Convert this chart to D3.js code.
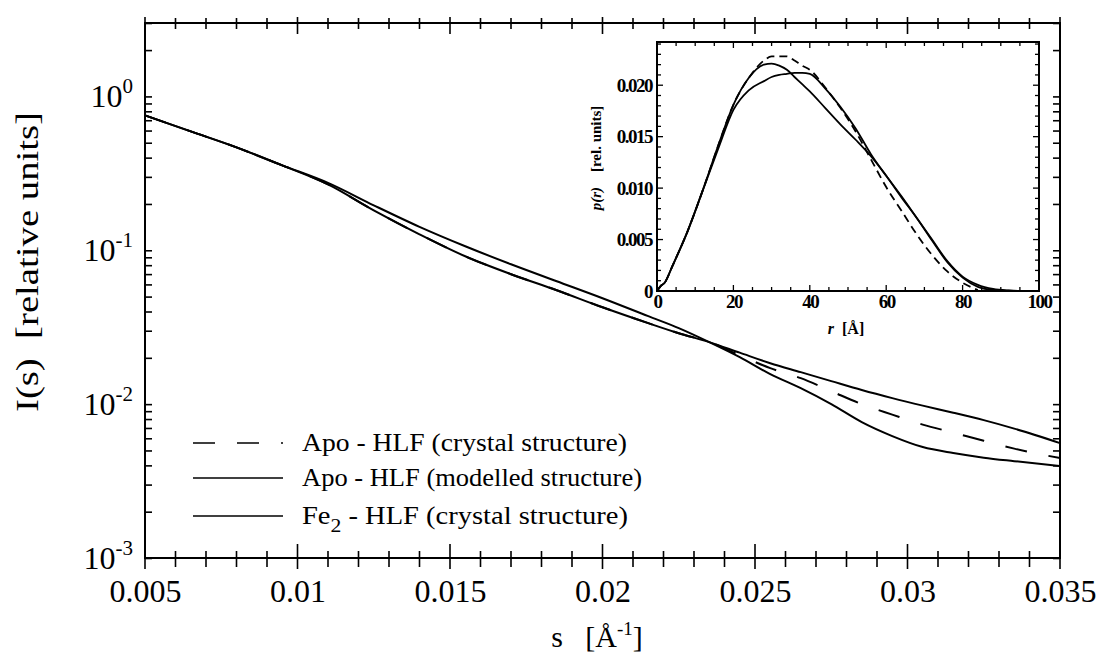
<!DOCTYPE html>
<html>
<head>
<meta charset="utf-8">
<script src="https://cdnjs.cloudflare.com/ajax/libs/d3/7.8.5/d3.min.js"></script>
<style>
  body { margin: 0; background: #fff; }
  svg { display: block; }
</style>
</head>
<body>
<div id="chart"></div>
<script>
// main plot: scattering curves I(s)
const sVals = [0.005, 0.0065, 0.008, 0.0095, 0.011, 0.0125, 0.014, 0.0155, 0.017, 0.0185,
  0.020, 0.0215, 0.0225, 0.0235, 0.0245, 0.0255, 0.0265, 0.0275, 0.0285, 0.0295,
  0.0305, 0.0315, 0.0325, 0.0335, 0.035];
const iApoCrystal = [0.7525, 0.5925, 0.4665, 0.3563, 0.2680, 0.1818, 0.1270, 0.0914, 0.0699, 0.0550,
  0.0426, 0.0336, 0.0289, 0.0253, 0.0208, 0.01713, 0.01475, 0.01214, 0.01000, 0.00855,
  0.00736, 0.00653, 0.00578, 0.00514, 0.00446];
const iApoModel = [0.7525, 0.5925, 0.4665, 0.3563, 0.2680, 0.1818, 0.1270, 0.0914, 0.0699, 0.0550,
  0.0426, 0.0336, 0.0289, 0.0253, 0.0216, 0.01846, 0.01614, 0.01411, 0.01235, 0.01094,
  0.00978, 0.00880, 0.00787, 0.00693, 0.00558];
const iFe2Crystal = [0.7525, 0.5925, 0.4665, 0.3563, 0.2740, 0.1960, 0.1420, 0.1062, 0.0811, 0.0629,
  0.0488, 0.0373, 0.0312, 0.0253, 0.0202, 0.01566, 0.01270, 0.01000, 0.00764, 0.00620,
  0.00526, 0.00481, 0.00449, 0.00426, 0.00396];

const xTicks = [0.005, 0.01, 0.015, 0.02, 0.025, 0.03, 0.035];
const xTickLabels = ["0.005", "0.01", "0.015", "0.02", "0.025", "0.03", "0.035"];
const yTicks = [1e-3, 1e-2, 1e-1, 1e0];
const yTickExps = ["-3", "-2", "-1", "0"];

// inset: distance distribution p(r)
const rVals = [0, 1, 2, 4, 8, 12, 16, 20, 24, 28, 30, 32, 34, 36, 38, 40, 44, 48, 52, 56,
  60, 64, 68, 72, 76, 80, 84, 88, 92, 96, 100];
const pApoCrystal = [0, 0.0005, 0.0008, 0.0024, 0.0058, 0.0098, 0.0141, 0.0181, 0.0207, 0.0224, 0.0228,
  0.0228, 0.0228, 0.0224, 0.0219, 0.0215, 0.0198, 0.0178, 0.0155, 0.0128,
  0.0101, 0.0078, 0.0055, 0.0035, 0.0019, 0.0008, 0.0001, null, null, null, null];
const pApoModel = [0, 0.0005, 0.0008, 0.0024, 0.0058, 0.0098, 0.0138, 0.0176, 0.0195, 0.0204, 0.0208,
  0.0210, 0.0211, 0.0212, 0.0212, 0.0211, 0.0197, 0.0179, 0.0158, 0.0133,
  0.0112, 0.0092, 0.0071, 0.0050, 0.0029, 0.0014, 0.0006, 0.0002, 0.00005, 0, 0];
const pFe2Crystal = [0, 0.0005, 0.0008, 0.0024, 0.0058, 0.0098, 0.0141, 0.0181, 0.0207, 0.0220, 0.0221,
  0.0219, 0.0215, 0.0208, 0.0201, 0.0194, 0.0178, 0.0162, 0.0147, 0.0131,
  0.0112, 0.0091, 0.0071, 0.0049, 0.0028, 0.0013, 0.0004, 0.0001, 0.00003, 0, 0];
const rTicks = [0, 20, 40, 60, 80, 100];
const pTicks = [0, 0.005, 0.010, 0.015, 0.020];

const legendNames = ["Apo - HLF (crystal structure)", "Apo - HLF (modelled structure)", "Fe2 - HLF (crystal structure)"];

const serif = "'Liberation Serif', 'DejaVu Serif', serif";

const width = 1101, height = 655;
const svg = d3.select("#chart").append("svg")
  .attr("width", width).attr("height", height)
  .attr("font-family", serif);

const x = d3.scaleLinear().domain([0.005, 0.035]).range([145, 1060]);
const y = d3.scaleLog().domain([1e-3, 3]).range([558, 23]);

// frame
svg.append("rect")
  .attr("x", x(0.005)).attr("y", y(3))
  .attr("width", x(0.035) - x(0.005)).attr("height", y(1e-3) - y(3))
  .attr("fill", "none").attr("stroke", "#000").attr("stroke-width", 2);

// x minor ticks (every 0.001), crossing the line, bottom and top
const xMinor = d3.range(5, 36).map(d => d / 1000);
function crossTicks(yPos, up, down, upMajor, downMajor) {
  svg.append("g").selectAll("line").data(xMinor).join("line")
    .attr("x1", d => x(d)).attr("x2", d => x(d))
    .attr("y1", (d, i) => yPos - (i % 5 === 0 ? upMajor : up))
    .attr("y2", (d, i) => yPos + (i % 5 === 0 ? downMajor : down))
    .attr("stroke", "#000").attr("stroke-width", 1.6);
}
crossTicks(y(1e-3), 7, 9, 14, 11);
crossTicks(y(3), 5, 6, 6, 11);

// x tick labels via axis
const xAxis = d3.axisBottom(x).tickValues(xTicks)
  .tickFormat((d, i) => xTickLabels[i]).tickSize(0).tickPadding(21);
const gx = svg.append("g").attr("transform", `translate(0,${y(1e-3)})`).call(xAxis)
  .attr("font-family", serif);
gx.select(".domain").remove();
gx.selectAll("text").style("font-family", serif).style("font-size", "32px");

// y ticks (inward on left & right)
const yMinor = [];
[1e-3, 1e-2, 1e-1, 1].forEach(dec => {
  for (let k = 1; k <= 9; k++) { const v = dec * k; if (v <= 3) yMinor.push(v); }
});
const yAxisL = d3.axisRight(y).tickValues(yMinor).tickFormat("").tickSize(7);
svg.append("g").attr("transform", `translate(${x(0.005)},0)`).call(yAxisL)
  .call(g => g.select(".domain").remove())
  .selectAll("line").attr("stroke-width", 1.6);
const yAxisR = d3.axisLeft(y).tickValues(yMinor).tickFormat("").tickSize(7);
svg.append("g").attr("transform", `translate(${x(0.035)},0)`).call(yAxisR)
  .call(g => g.select(".domain").remove())
  .selectAll("line").attr("stroke-width", 1.6);

// y labels 10^n
const yLab = svg.append("g");
yTicks.forEach((v, i) => {
  const t = yLab.append("text")
    .attr("x", 133).attr("y", y(v) + 11)
    .attr("text-anchor", "end")
    .style("font-family", serif)
    .style("font-size", "32px");
  t.append("tspan").text("10");
  t.append("tspan").attr("dy", -14).style("font-size", "21px").text(yTickExps[i]);
});

// axis titles
svg.append("text")
  .attr("transform", "translate(38,262) rotate(-90)")
  .attr("text-anchor", "middle")
  .style("font-family", serif)
  .style("font-size", "32px")
  .attr("textLength", 300)
  .attr("lengthAdjust", "spacingAndGlyphs")
  .attr("xml:space", "preserve")
  .text("I(s)  [relative units]");

const xt = svg.append("text")
  .attr("x", 597).attr("y", 647)
  .attr("text-anchor", "middle")
  .style("font-family", serif)
  .style("font-size", "30px")
  .attr("xml:space", "preserve");
xt.append("tspan").text("s   [Å");
xt.append("tspan").attr("dy", -12).style("font-size", "19px").text("-1");
xt.append("tspan").attr("dy", 12).text("]");

// curves
const mainLine = vals => d3.line()
  .x((d, i) => x(sVals[i]))
  .y(d => y(d))
  .curve(d3.curveMonotoneX)(vals);

svg.append("path").attr("d", mainLine(iApoCrystal))
  .attr("fill", "none").attr("stroke", "#000").attr("stroke-width", 2)
  .attr("stroke-dasharray", "22,22");
svg.append("path").attr("d", mainLine(iApoModel))
  .attr("fill", "none").attr("stroke", "#000").attr("stroke-width", 2);
svg.append("path").attr("d", mainLine(iFe2Crystal))
  .attr("fill", "none").attr("stroke", "#000").attr("stroke-width", 2);

// legend
const legendY = [443, 478, 516];
const legendLen = [325, 340, 326];
const leg = svg.append("g");
legendNames.forEach((name, i) => {
  leg.append("line")
    .attr("x1", 193).attr("x2", 283)
    .attr("y1", legendY[i]).attr("y2", legendY[i])
    .attr("stroke", "#000").attr("stroke-width", 1.6)
    .attr("stroke-dasharray", i === 0 ? "22,22" : null);
  const t = leg.append("text")
    .attr("x", 302).attr("y", legendY[i] + 8)
    .style("font-family", serif)
    .style("font-size", "25px")
    .attr("textLength", legendLen[i])
    .attr("lengthAdjust", "spacingAndGlyphs");
  if (name.startsWith("Fe2")) {
    t.append("tspan").text("Fe");
    t.append("tspan").attr("dy", 8).style("font-size", "19px").text("2");
    t.append("tspan").attr("dy", -8).text(name.slice(3));
  } else {
    t.text(name);
  }
});

// ---------- inset ----------
const ix = d3.scaleLinear().domain([0, 100]).range([657, 1039]);
const iy = d3.scaleLinear().domain([0, 0.0242]).range([291, 42]);
const inset = svg.append("g");

inset.append("rect")
  .attr("x", ix(0)).attr("y", iy(0.0242))
  .attr("width", ix(100) - ix(0)).attr("height", iy(0) - iy(0.0242))
  .attr("fill", "#fff").attr("stroke", "#000").attr("stroke-width", 2);

const rMinor = d3.range(0, 101, 5);
const pMinor = d3.range(0, 25).map(d => d / 1000);
// bottom & top ticks, inward
[[iy(0), -1], [iy(0.0242), 1]].forEach(([yy, dir]) => {
  inset.append("g").selectAll("line").data(rMinor).join("line")
    .attr("x1", d => ix(d)).attr("x2", d => ix(d))
    .attr("y1", yy).attr("y2", d => yy + dir * (d % 20 === 0 ? 6 : 4))
    .attr("stroke", "#000").attr("stroke-width", 1.3);
});
[[ix(0), 1], [ix(100), -1]].forEach(([xx, dir]) => {
  inset.append("g").selectAll("line").data(pMinor).join("line")
    .attr("y1", d => iy(d)).attr("y2", d => iy(d))
    .attr("x1", xx).attr("x2", (d, i) => xx + dir * (i % 5 === 0 ? 6 : 4))
    .attr("stroke", "#000").attr("stroke-width", 1.3);
});

const irAxis = d3.axisBottom(ix).tickValues(rTicks).tickFormat(d3.format("d")).tickSize(0).tickPadding(4);
const gir = inset.append("g").attr("transform", `translate(0,${iy(0)})`).call(irAxis);
gir.select(".domain").remove();
gir.selectAll("text").style("font-family", serif)
  .style("font-size", "19px").style("font-weight", "bold").style("letter-spacing", "-1.5px");

const ipAxis = d3.axisLeft(iy).tickValues(pTicks)
  .tickFormat(d => d === 0 ? "0" : d3.format(".3f")(d)).tickSize(0).tickPadding(5);
const gip = inset.append("g").attr("transform", `translate(${ix(0)},0)`).call(ipAxis);
gip.select(".domain").remove();
gip.selectAll("text").style("font-family", serif)
  .style("font-size", "19px").style("font-weight", "bold").style("letter-spacing", "-1.5px");

const irt = inset.append("text")
  .attr("x", 846).attr("y", 334)
  .attr("text-anchor", "middle")
  .style("font-family", serif)
  .style("font-size", "16px").style("font-weight", "bold")
  .attr("xml:space", "preserve");
irt.append("tspan").style("font-style", "italic").text("r");
irt.append("tspan").text("  [Å]");

const ipt = inset.append("text")
  .attr("transform", "translate(601,158) rotate(-90)")
  .attr("text-anchor", "middle")
  .style("font-family", serif)
  .style("font-size", "15px").style("font-weight", "bold")
  .attr("xml:space", "preserve");
ipt.append("tspan").style("font-style", "italic").text("p(r)");
ipt.append("tspan").text("    [rel. units]");

const insetLine = vals => d3.line()
  .defined(d => d !== null)
  .x((d, i) => ix(rVals[i]))
  .y(d => iy(d))
  .curve(d3.curveMonotoneX)(vals);

inset.append("path").attr("d", insetLine(pApoCrystal))
  .attr("fill", "none").attr("stroke", "#000").attr("stroke-width", 1.8)
  .attr("stroke-dasharray", "8,5");
inset.append("path").attr("d", insetLine(pApoModel))
  .attr("fill", "none").attr("stroke", "#000").attr("stroke-width", 1.8);
inset.append("path").attr("d", insetLine(pFe2Crystal))
  .attr("fill", "none").attr("stroke", "#000").attr("stroke-width", 1.8);
</script>
</body>
</html>
